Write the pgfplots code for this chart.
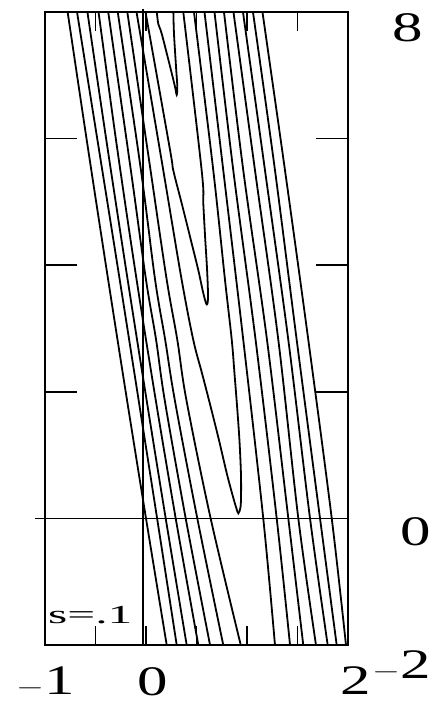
\documentclass[border=0pt]{standalone}
\usepackage{pgfplots}
\pgfplotsset{compat=1.18}
\usepackage{graphicx}
\usepackage{fontspec}
\setmainfont{Liberation Serif}
\newcommand{\lab}[1]{\fontsize{42bp}{42bp}\selectfont\scalebox{1.45}[1]{#1}}
\newcommand{\slab}[1]{\fontsize{26bp}{26bp}\selectfont\scalebox{1.9}[1]{#1}}
\begin{document}
\begin{tikzpicture}[x=1bp,y=1bp]
\useasboundingbox (-45,-60) rectangle (391,645);
\begin{axis}[
  at={(0,0)}, anchor=south west,
  scale only axis, width=303bp, height=633bp,
  xmin=-1, xmax=2, ymin=-2, ymax=8,
  axis line style={line width=1.8bp},
  tick pos=both, tick align=inside,
  xtick={-0.5,0,0.5,1,1.5}, ytick={0,2,4,6},
  xticklabels={}, yticklabels={},
  every tick/.style={black, line width=1.7bp},
  xtick style={black, line width=1.7bp, /pgfplots/major tick length=19bp},
  ytick style={black, line width=1.7bp, /pgfplots/major tick length=32bp},
  clip=false,
  cycle list={black,solid,line width=1.8bp,mark=none,smooth,tension=0.55\\},
]
% reference axes through the origin
\draw[line width=1.6bp] (axis cs:-1.1,0) -- (axis cs:2,0);
\draw[line width=1.6bp] (axis cs:-0.03,8.05) -- (axis cs:-0.03,-2);

% level curves, outer family (left branches)
\addplot coordinates {(-0.776,8) (-0.589,6) (-0.397,4) (-0.201,2) (0.000,0) (0.205,-2)};
\addplot coordinates {(-0.683,8) (-0.483,6) (-0.283,4) (-0.086,2) (0.110,0) (0.304,-2)};
\addplot coordinates {(-0.580,8) (-0.395,6) (-0.204,4) (-0.007,2) (0.195,0) (0.403,-2)};
\addplot coordinates {(-0.470,8) (-0.299,6) (-0.115,4) (0.083,2) (0.294,0) (0.518,-2)};
\addplot coordinates {(-0.374,8) (-0.150,5.5) (0.000,3.77) (0.100,2.82) (0.185,1.87) (0.393,0) (0.634,-2)};
\addplot coordinates {(-0.280,8) (-0.050,5.5) (0.090,3.77) (0.190,2.82) (0.285,1.87) (0.508,0) (0.765,-2)};
\addplot coordinates {(-0.185,8) (0.045,5.5) (0.205,3.77) (0.310,2.82) (0.400,1.87) (0.640,0) (0.938,-2)};
% closed-bottom level curves
\addplot coordinates {(-0.094,8) (0.171,5.5) (0.353,3.77) (0.468,2.82) (0.555,2.29) (0.640,1.765) (0.722,1.24) (0.800,0.71) (0.860,0.35) (0.893,0.17) (0.914,0.08) (0.935,0.17) (0.941,0.35) (0.940,0.71) (0.925,1.24) (0.902,1.765) (0.876,2.29) (0.849,2.82) (0.782,3.77) (0.666,5.5) (0.475,8)};
\addplot coordinates {(-0.005,8) (0.238,5.82) (0.270,5.5) (0.353,4.98) (0.436,4.45) (0.518,3.92) (0.567,3.56) (0.601,3.38) (0.614,3.5) (0.605,3.92) (0.585,4.45) (0.567,4.98) (0.551,5.5) (0.369,8)};
\addplot coordinates {(0.107,8) (0.122,7.81) (0.155,7.66) (0.238,7.14) (0.287,6.82) (0.304,6.69) (0.310,6.82) (0.297,7.14) (0.277,7.66) (0.271,8)};
% level curves, outer family (right branches)
\addplot coordinates {(0.579,8) (0.765,5.5) (0.963,2.82) (1.161,0) (1.277,-2)};
\addplot coordinates {(0.678,8) (0.864,5.5) (1.085,2.82) (1.294,0) (1.426,-2)};
\addplot coordinates {(0.772,8) (0.963,5.5) (1.198,2.82) (1.409,0) (1.557,-2)};
\addplot coordinates {(0.866,8) (1.079,5.5) (1.310,2.82) (1.508,0) (1.683,-2)};
\addplot coordinates {(0.960,8) (1.178,5.5) (1.409,2.82) (1.624,0) (1.799,-2)};
\addplot coordinates {(1.059,8) (1.277,5.5) (1.492,2.82) (1.723,0) (1.888,-2)};
\addplot coordinates {(1.153,8) (1.376,5.5) (1.607,2.82) (1.839,0) (1.980,-2)};

% labels
\node[anchor=north west, inner sep=0pt] at (axis cs:-1.287,-2.347) {\lab{$-$1}};
\node[anchor=north west, inner sep=0pt] at (axis cs:-0.089,-2.347) {\lab{0}};
\node[anchor=north west, inner sep=0pt] at (axis cs:1.921,-2.347) {\lab{2}};
\node[anchor=north west, inner sep=0pt] at (axis cs:2.238,-2.079) {\lab{$-$2}};
\node[anchor=north west, inner sep=0pt] at (axis cs:2.515,0.022) {\lab{0}};
\node[anchor=north west, inner sep=0pt] at (axis cs:2.436,7.984) {\lab{8}};
\node[anchor=north west, inner sep=0pt] at (axis cs:-0.970,-1.39) {\slab{s=.1}};
\end{axis}
\end{tikzpicture}
\end{document}
